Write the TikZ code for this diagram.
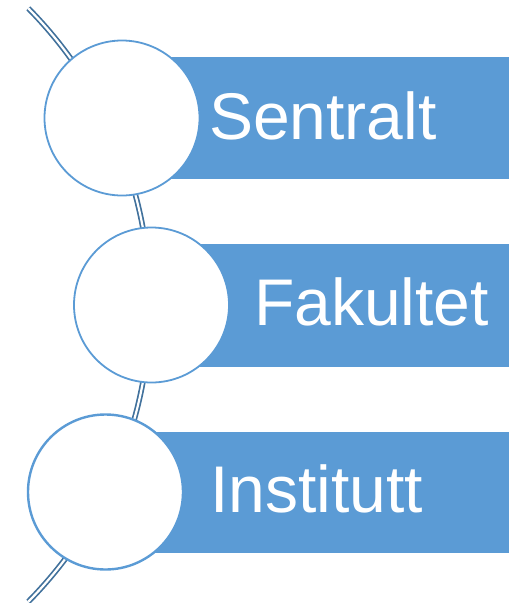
\documentclass[tikz,border=0pt]{standalone}
\usepackage{fontspec}
\setmainfont{Liberation Sans}
\definecolor{boxblue}{HTML}{5B9BD5}
\definecolor{arcblue}{HTML}{41719C}
\begin{document}
\begin{tikzpicture}[x=1pt,y=-1pt,
  bar/.style={fill=boxblue, draw=none},
  ring/.style={circle, draw=boxblue, line width=1.8pt, fill=white, minimum size=155pt, inner sep=0pt},
  label/.style={anchor=base west, text=white, font=\fontsize{66}{72}\selectfont, inner sep=0pt},
  track/.style={draw=arcblue, double=white, line width=1.7pt, double distance=2.2pt}
]
\useasboundingbox (0,0) rectangle (519,603);
% background track (arc of a large circle)
\coordinate (ctr) at (-272.6,305);
\draw[track] (ctr) ++(-44.6:422.6) coordinate (top) arc[start angle=-44.6, end angle=44.6, radius=422.6] coordinate (bot);
% bars
\fill[bar] (122,57) rectangle (509,179);
\fill[bar] (151,244) rectangle (509,367);
\fill[bar] (105,432) rectangle (509,553);
% circles
\node[ring] (c1) at (122,118) {};
\node[ring] (c2) at (151.5,305) {};
\node[ring, line width=2.4pt] (c3) at (105.5,492) {};
% labels
\node[label] (t1) at (209,139) {Sentralt};
\node[label] (t2) at (254,325) {Fakultet};
\node[label] (t3) at (210,512) {Institutt};
\end{tikzpicture}
\end{document}
